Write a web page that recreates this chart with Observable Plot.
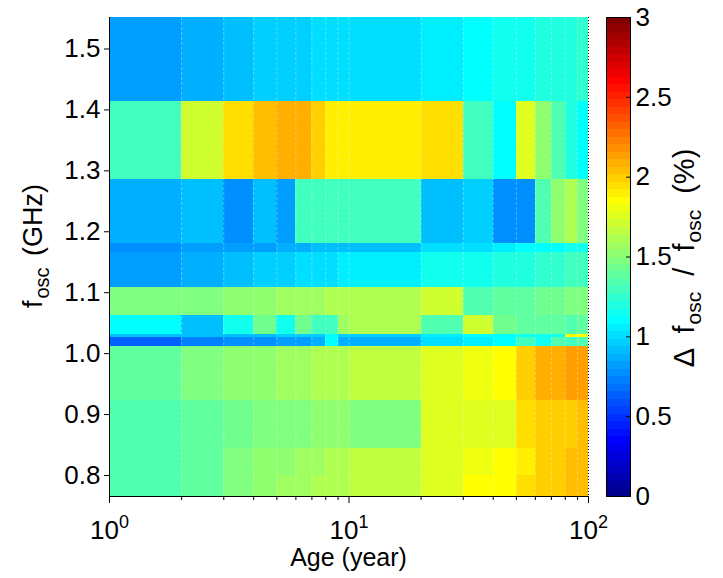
<!DOCTYPE html>
<html><head><meta charset="utf-8">
<script src="https://cdn.jsdelivr.net/npm/d3@7"></script>
<script src="https://cdn.jsdelivr.net/npm/@observablehq/plot@0.6"></script>
<style>
body{margin:0;background:#fff;}
#wrap{position:relative;width:723px;height:578px;overflow:hidden;}
#wrap svg{position:absolute;top:0;}
</style></head><body><div id="wrap"></div>
<script>
// Column edges (age, years) and row edges (f_osc, GHz)
const ageEdges = [1,2,3,4,5,6,7,8,9,10,20,30,40,50,60,70,80,90,100];
const freqEdges = [0.7655,0.80,0.845,0.923,1.0125,1.027,1.031,1.063,1.109,1.166,1.181,1.285,1.414,1.5517];
// Δf/f (%) per band, bottom to top, one value per age column
const band0765 = [1.34,1.40,1.48,1.50,1.55,1.58,1.60,1.64,1.64,1.65,1.76,1.85,1.85,1.95,1.98,1.98,2.04,2.04];
const band0800 = [1.34,1.40,1.48,1.50,1.53,1.55,1.58,1.62,1.62,1.65,1.74,1.81,1.85,1.92,1.97,1.98,2.04,2.04];
const band0845 = [1.34,1.38,1.45,1.48,1.48,1.48,1.50,1.53,1.53,1.48,1.76,1.76,1.78,1.95,1.97,1.98,2.01,2.04];
const band0923 = [1.36,1.48,1.50,1.53,1.55,1.58,1.60,1.62,1.62,1.65,1.76,1.81,1.85,2.01,2.07,2.07,2.11,2.11];
const band1013 = [0.64,0.73,0.76,0.78,0.80,0.83,0.85,1.10,0.85,0.88,1.03,1.07,1.10,1.29,1.14,1.34,1.29,1.34];
const band1027 = [0.90,0.90,0.93,0.93,0.95,0.98,0.98,1.10,0.98,0.98,1.06,1.08,1.10,1.13,1.13,1.13,1.83,1.83];
const band1031 = [1.10,0.90,1.17,1.43,1.17,1.43,1.29,1.29,1.58,1.62,1.34,1.72,1.43,1.36,1.36,1.38,1.34,1.38];
const band1063 = [1.46,1.48,1.50,1.53,1.55,1.58,1.58,1.60,1.60,1.62,1.70,1.34,1.38,1.40,1.43,1.45,1.48,1.48];
const band1109 = [0.80,0.85,0.92,0.95,0.97,0.99,1.01,1.03,1.05,1.06,1.14,1.17,1.19,1.20,1.23,1.25,1.27,1.29];
const band1166 = [0.78,0.80,0.82,0.83,0.85,0.88,0.90,0.90,0.90,0.90,1.00,1.02,1.06,1.10,1.12,1.12,1.14,1.14];
const band1181 = [0.85,0.92,0.78,0.92,0.82,1.27,1.27,1.27,1.27,1.27,0.92,0.97,0.78,0.78,1.34,1.53,1.60,1.48];
const band1285 = [1.28,1.72,1.95,2.06,2.08,2.08,2.01,1.88,1.88,1.88,1.95,1.29,1.10,1.76,1.53,1.34,1.18,1.11];
const band1414 = [0.80,0.85,0.92,0.94,0.95,0.97,0.99,1.00,1.01,1.01,1.06,1.10,1.15,1.17,1.18,1.20,1.20,1.24];
const bands = [band0765,band0800,band0845,band0923,band1013,band1027,band1031,band1063,band1109,band1166,band1181,band1285,band1414];
const yTicks = [0.8,0.9,1.0,1.1,1.2,1.3,1.4,1.5];
const xMajor = [1,10,100];
const xMinor = [2,3,4,5,6,7,8,9,20,30,40,50,60,70,80,90];
const cbTicks = [0,0.5,1,1.5,2,2.5,3];

function jet64(t){
  let i = Math.floor(t*64)+1; i = Math.max(1, Math.min(64, i));
  const r = i<=24?0 : i<=40?(i-24)/16 : i<=56?1 : 1-(i-56)/16;
  const g = i<=8?0 : i<=24?(i-8)/16 : i<=40?1 : i<=56?1-(i-40)/16 : 0;
  const b = i<=8?0.5+i/16 : i<=24?1 : i<=40?1-(i-24)/16 : 0;
  return `rgb(${Math.round(r*255)},${Math.round(g*255)},${Math.round(b*255)})`;
}
const colorOpts = {type:"linear", domain:[0,3], interpolate: jet64};
const FONT = '"Liberation Sans", Arial, Helvetica, sans-serif';

const cells = [];
bands.forEach((vals, r) => vals.forEach((v, c) => cells.push({
  a1: ageEdges[c], a2: ageEdges[c+1], f1: freqEdges[r], f2: freqEdges[r+1], v
})));
const innerAges = ageEdges.slice(1, -1);

const W = 723, H = 578, ML = 109, MR = 723-588, MT = 17, MB = 578-496;
const main = Plot.plot({
  width: W, height: H, marginLeft: ML, marginRight: MR, marginTop: MT, marginBottom: MB,
  x: {type: "log", domain: [1, 100]},
  y: {domain: [freqEdges[0], freqEdges[freqEdges.length-1]]},
  color: colorOpts,
  style: {fontFamily: FONT, fontSize: "26px", color: "#000", background: "none"},
  marks: [
    Plot.rect(cells, {x1: "a1", x2: "a2", y1: "f1", y2: "f2", fill: "v", inset: 0, shapeRendering: "crispEdges"}),
    Plot.ruleX(innerAges, {stroke: "#fff", strokeOpacity: 0.3, strokeDasharray: "3,2"}),
    Plot.ruleX([100], {stroke: "#000", strokeDasharray: "1,2"}),
    Plot.ruleX([1], {stroke: "#000"}),
    Plot.ruleY([freqEdges[0]], {stroke: "#000"}),
    Plot.axisX({ticks: xMinor, tickSize: 4, tickFormat: () => "", label: null}),
    Plot.axisX({ticks: xMajor, tickSize: 7, tickPadding: 17, tickFormat: d => String(Math.round(Math.log10(d))), label: null}),
    Plot.axisY({ticks: yTicks, tickSize: 5, tickPadding: 4, tickFormat: d3.format(".1f"), label: null})
  ]
});
document.getElementById("wrap").appendChild(main);
main.style.left = "0px";

const ms = d3.select(main);
// superscript exponents on x tick labels
ms.selectAll('g[aria-label="x-axis tick label"] text').each(function(){
  const e = this.textContent;
  if (!e) return;
  const t = d3.select(this);
  t.text("");
  t.append("tspan").text("10");
  t.append("tspan").attr("font-size", 18).attr("dy", "-0.6em").text(e);
});
// axis titles
ms.append("text").attr("x", 348.5).attr("y", 566).attr("text-anchor", "middle")
  .attr("font-family", FONT).attr("font-size", 25).attr("fill", "#000").text("Age (year)");
const yl = ms.append("text").attr("transform", "translate(42,246) rotate(-90)").attr("text-anchor", "middle")
  .attr("font-family", FONT).attr("font-size", 27).attr("fill", "#000").attr("word-spacing", 4);
yl.append("tspan").text("f");
yl.append("tspan").attr("font-size", 20).attr("dx", 2).attr("dy", 7).text("osc");
yl.append("tspan").attr("dy", -7).text(" (GHz)");

// colorbar
const levels = d3.range(64).map(i => ({lo: i*3/64, hi: (i+1)*3/64, mid: (i+0.5)*3/64}));
const cbLeft = 590;
const cb = Plot.plot({
  width: W - cbLeft, height: H, marginLeft: 16, marginRight: (W - cbLeft) - 40, marginTop: MT, marginBottom: MB,
  x: {domain: [0, 1], axis: null},
  y: {domain: [0, 3]},
  color: colorOpts,
  style: {fontFamily: FONT, fontSize: "26px", color: "#000", background: "none", overflow: "visible"},
  marks: [
    Plot.rect(levels, {x1: 0, x2: 1, y1: "lo", y2: "hi", fill: "mid", inset: 0, shapeRendering: "crispEdges"}),
    Plot.ruleY(cbTicks, {x1: 0.84, x2: 1, stroke: "#000"}),
    Plot.frame({stroke: "#000"}),
    Plot.axisY({anchor: "right", ticks: cbTicks, tickSize: 0, tickPadding: 5, tickFormat: d => String(d), label: null})
  ]
});
document.getElementById("wrap").appendChild(cb);
cb.style.left = cbLeft + "px";
const cs = d3.select(cb);
const cl = cs.append("text").attr("transform", `translate(${694-cbLeft},258) rotate(-90)`).attr("text-anchor", "middle")
  .attr("font-family", FONT).attr("font-size", 29).attr("fill", "#000").attr("word-spacing", 8);
cl.append("tspan").text("\u0394 f");
cl.append("tspan").attr("font-size", 21).attr("dx", 1).attr("dy", 7).text("osc");
cl.append("tspan").attr("dy", -7).text(" / f");
cl.append("tspan").attr("font-size", 21).attr("dx", 1).attr("dy", 7).text("osc");
cl.append("tspan").attr("dy", -7).text(" (%)");
</script></body></html>
